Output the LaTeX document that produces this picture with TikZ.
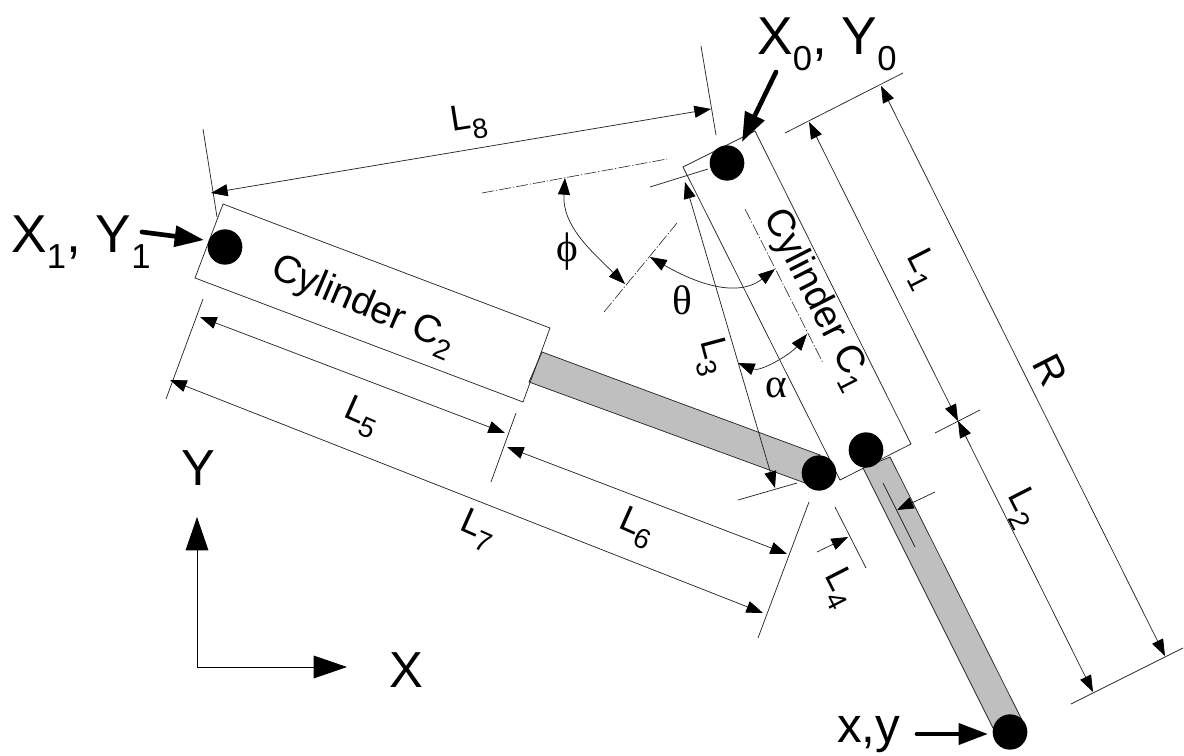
\documentclass[tikz,border=0pt]{standalone}
\usepackage{fontspec}
\setmainfont{Liberation Sans}
\newfontfamily\symfont{Liberation Serif}
\usetikzlibrary{arrows.meta,shapes.geometric}
\tikzset{x=0.75pt,y=-0.75pt,
 thin line/.style={line width=0.55pt,draw=black!85},
 dim/.style={thin line,{Triangle[length=12.5pt,width=9pt,color=black,fill=black]}-{Triangle[length=12.5pt,width=9pt,color=black,fill=black]}},
 dimend/.style={thin line,-{Triangle[length=12.5pt,width=9pt,color=black,fill=black]}},
 center line/.style={line width=0.45pt,draw=black!85,dash pattern=on 9pt off 1.5pt on 1pt off 1.5pt},
 rod/.style={fill=black!25,draw=black!85,line width=0.55pt},
 pivot/.style={ellipse,fill=black,draw=none,inner sep=0pt,minimum width=26pt,minimum height=26.5pt},
 bigarrow/.style={line width=3.5pt,line cap=round,-{Triangle[length=22pt,width=15.5pt]}},
 axis/.style={line width=0.75pt,-{Triangle[length=25pt,width=17pt]}},
 biglabel/.style={font=\fontsize{40}{40}\selectfont,inner sep=0pt,anchor=base west},
 axislabel/.style={font=\fontsize{38}{38}\selectfont,inner sep=0pt,anchor=base west},
 dimlabel/.style={font=\fontsize{27}{27}\selectfont,inner sep=0pt},
 greek/.style={font=\symfont\fontsize{31}{31}\selectfont,inner sep=0pt},
 cyl/.style={font=\fontsize{29}{29}\selectfont,inner sep=0pt},
}
\newcommand{\Lsub}[1]{L\raisebox{-8pt}{\fontsize{21}{21}\selectfont #1}}
\newcommand{\Bsub}[1]{\raisebox{-12pt}{\fontsize{26}{26}\selectfont #1}}
\begin{document}
\begin{tikzpicture}
\path[use as bounding box,fill=white] (0,0) rectangle (1184,756);
% rods
\coordinate (r2a) at (542,352); \coordinate (r2b) at (820,455); \coordinate (r2c) at (805,483); \coordinate (r2d) at (529,382);
\path[rod] (r2a) -- (r2b) -- (r2c) -- (r2d) -- cycle;
\coordinate (r1a) at (890,457); \coordinate (r1b) at (1022,720); \coordinate (r1c) at (993,728); \coordinate (r1d) at (863,468);
\path[rod] (r1a) -- (r1b) -- (r1c) -- (r1d) -- cycle;
% cylinders
\coordinate (c1a) at (683,167); \coordinate (c1b) at (755,131); \coordinate (c1c) at (911,444); \coordinate (c1d) at (840,480);
\draw[thin line] (c1a) -- (c1b) -- (c1c) -- (c1d) -- cycle;
\coordinate (c2a) at (223,204); \coordinate (c2b) at (550,328); \coordinate (c2c) at (523,402); \coordinate (c2d) at (195,278);
\draw[thin line] (c2a) -- (c2b) -- (c2c) -- (c2d) -- cycle;
% pivots
\node[pivot] (p0) at (727,163) {};
\node[pivot] (p1) at (225,247) {};
\node[pivot] (p2) at (819,473) {};
\node[pivot] (p3) at (866,450) {};
\node[pivot] (p4) at (1010,732) {};
% L8
\coordinate (e8a) at (203,129); \coordinate (e8b) at (217,217); \coordinate (e8c) at (701,46); \coordinate (e8d) at (716,135);
\draw[thin line] (e8a) -- (e8b); \draw[thin line] (e8c) -- (e8d);
\coordinate (d8a) at (211,193); \coordinate (d8b) at (711,109);
\draw[dim] (d8a) -- (d8b);
% L1, L2, R
\coordinate (etA) at (785,133); \coordinate (etB) at (903,73);
\coordinate (emA) at (935,433); \coordinate (emB) at (980,410);
\coordinate (ebA) at (1071,704); \coordinate (ebB) at (1183,648);
\draw[thin line] (etA) -- (etB); \draw[thin line] (emA) -- (emB); \draw[thin line] (ebA) -- (ebB);
\coordinate (tL1) at (809,122); \coordinate (mL) at (958,421); \coordinate (bL2) at (1093,692);
\coordinate (tR) at (881,86); \coordinate (bR) at (1165,656);
\draw[dim] (tL1) -- (mL); \draw[dim] (mL) -- (bL2); \draw[dim] (tR) -- (bR);
% L3
\coordinate (e3a) at (650,187); \coordinate (e3b) at (708,169); \coordinate (e3c) at (738,500); \coordinate (e3d) at (797,483);
\draw[thin line] (e3a) -- (e3b); \draw[thin line] (e3c) -- (e3d);
\coordinate (t3) at (685,182); \coordinate (b3) at (775,488);
\draw[dim] (t3) -- (b3);
% L4
\coordinate (e4a) at (835,507); \coordinate (e4b) at (866,568); \coordinate (e4c) at (883,483); \coordinate (e4d) at (915,547);
\draw[thin line] (e4a) -- (e4b); \draw[thin line] (e4c) -- (e4d);
\coordinate (a4s) at (817,552); \coordinate (a4t) at (848,537); \coordinate (b4s) at (935,492); \coordinate (b4t) at (897,510);
\draw[dimend] (a4s) -- (a4t); \draw[dimend] (b4s) -- (b4t);
% L5, L6, L7
\coordinate (e5a) at (203,299); \coordinate (e5b) at (166,399);
\coordinate (e6a) at (516,413); \coordinate (e6b) at (491,482);
\coordinate (e7a) at (809,502); \coordinate (e7b) at (758,638);
\draw[thin line] (e5a) -- (e5b); \draw[thin line] (e6a) -- (e6b); \draw[thin line] (e7a) -- (e7b);
\coordinate (l5a) at (200,317); \coordinate (l5b) at (505,433);
\coordinate (l6a) at (507,447); \coordinate (l6b) at (787,554);
\coordinate (l7a) at (170,380); \coordinate (l7b) at (763,613);
\draw[dim] (l5a) -- (l5b); \draw[dim] (l6a) -- (l6b); \draw[dim] (l7a) -- (l7b);
% center lines
\coordinate (c1) at (482,193); \coordinate (c2) at (667,159);
\coordinate (c3) at (604,312); \coordinate (c4) at (677,223);
\coordinate (c5) at (745,209); \coordinate (c6) at (823,363);
\draw[center line] (c1) -- (c2); \draw[center line] (c3) -- (c4); \draw[center line] (c5) -- (c6);
% angle arcs
\coordinate (ph1) at (565,178); \coordinate (ph2) at (625,284);
\draw[dim] (ph1) .. controls (562,225) and (590,250) .. (ph2);
\coordinate (th1) at (650,257); \coordinate (th2) at (775,269);
\draw[dim] (th1) .. controls (690,280) and (735,300) .. (th2);
\coordinate (al1) at (738,363); \coordinate (al2) at (807,334);
\draw[dim] (al1) .. controls (760,372) and (790,355) .. (al2);
% big labels
\node[biglabel] (x0) at (757,55) {X\Bsub{0}, Y\Bsub{0}};
\node[biglabel] (x1) at (11,252) {X\Bsub{1}, Y\Bsub{1}};
\node[axislabel] (yl) at (181,485) {Y};
\node[axislabel] (xl) at (389,687) {X};
\node[axislabel,font=\fontsize{37}{37}\selectfont] (xy) at (837,742) {x,y};
% big arrows
\coordinate (ax0s) at (776,72); \coordinate (ax0t) at (742,142);
\draw[bigarrow] (ax0s) -- (ax0t);
\coordinate (ax1s) at (142,232); \coordinate (ax1t) at (204,240);
\draw[bigarrow] (ax1s) -- (ax1t);
\coordinate (axys) at (917,734); \coordinate (axyt) at (988,734);
\draw[bigarrow] (axys) -- (axyt);
\coordinate (o) at (197,667); \coordinate (oy) at (197,517); \coordinate (ox) at (347,667);
\draw[axis] (o) -- (oy); \draw[axis] (o) -- (ox);
% labels
\node[dimlabel,rotate=9] (tl8) at (469,122) {\Lsub{8}};
\node[dimlabel,rotate=-63] (tl1) at (921,269) {\Lsub{1}};
\node[dimlabel,rotate=-63] (tl2) at (1022,508) {\Lsub{2}};
\node[dimlabel,rotate=-75] (tl3) at (712,357) {\Lsub{3}};
\node[dimlabel,rotate=-63] (tl4) at (839,588) {\Lsub{4}};
\node[dimlabel,rotate=-24] (tl5) at (362,417) {\Lsub{5}};
\node[dimlabel,rotate=-24] (tl6) at (637,528) {\Lsub{6}};
\node[dimlabel,rotate=-24] (tl7) at (478,530) {\Lsub{7}};
\node[dimlabel,rotate=-63,font=\fontsize{30}{30}\selectfont] (tr) at (1050,370) {R};
\node[cyl,rotate=-23] (tc2) at (363,306) {Cylinder C\raisebox{-7pt}{\fontsize{21}{21}\selectfont 2}};
\node[cyl,rotate=-63] (tc1) at (816,300) {Cylinder C\raisebox{-7pt}{\fontsize{21}{21}\selectfont 1}};
\node[greek] (tphi) at (567,252) {ϕ};
\node[greek] (tth) at (682,300) {θ};
\node[greek] (tal) at (776,388) {α};
\end{tikzpicture}
\end{document}
